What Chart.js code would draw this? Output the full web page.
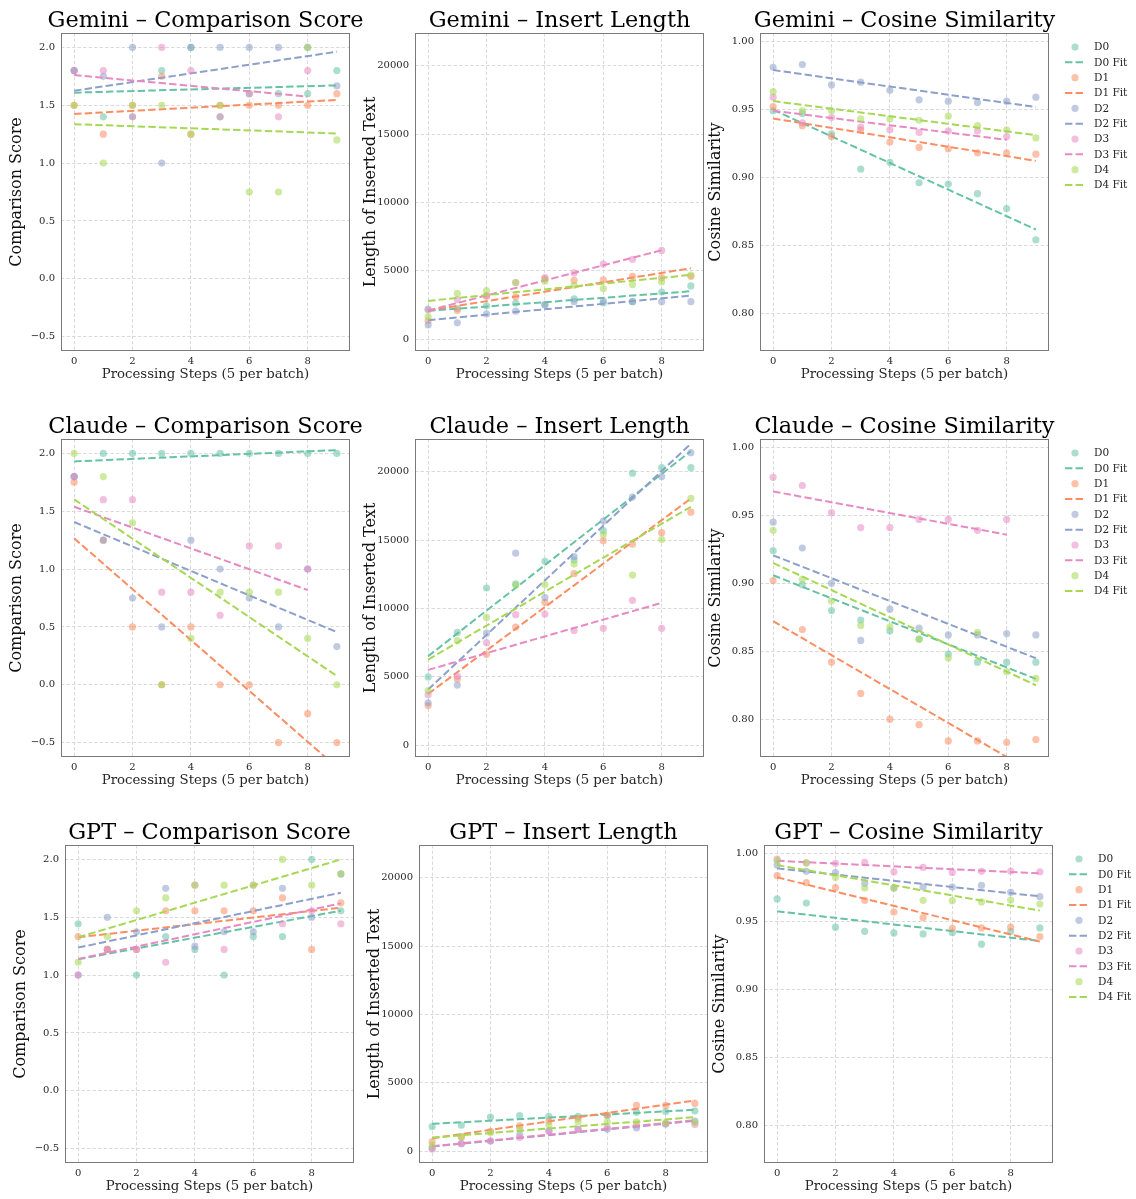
<!DOCTYPE html>
<html>
<head>
<meta charset="utf-8">
<script src="https://cdn.jsdelivr.net/npm/chart.js@4.4.1/dist/chart.umd.min.js"></script>
<style>
html, body { margin: 0; padding: 0; background: #ffffff; width: 1136px; height: 1199px; overflow: hidden; }
canvas { position: absolute; }
</style>
</head>
<body>
<script>
// ---------- labels / ticks ----------
const steps = [0, 1, 2, 3, 4, 5, 6, 7, 8, 9];
const seriesNames = ['D0', 'D1', 'D2', 'D3', 'D4'];
const seriesColors = ['#66c2a5', '#fc8d62', '#8da0cb', '#e78ac3', '#a6d854'];
const modelNames = ['Gemini', 'Claude', 'GPT'];
const metricNames = ['Comparison Score', 'Insert Length', 'Cosine Similarity'];
const yAxisTitles = ['Comparison Score', 'Length of Inserted Text', 'Cosine Similarity'];
const xAxisTitle = 'Processing Steps (5 per batch)';
const xTickValues = [0, 2, 4, 6, 8];
const xTickLabels = ['0', '2', '4', '6', '8'];
const scoreTickValues = [-0.5, 0, 0.5, 1, 1.5, 2];
const scoreTickLabels = ['\u22120.5', '0.0', '0.5', '1.0', '1.5', '2.0'];
const lengthTickValues = [0, 5000, 10000, 15000, 20000];
const lengthTickLabels = ['0', '5000', '10000', '15000', '20000'];
const cosineTickValues = [0.80, 0.85, 0.90, 0.95, 1.00];
const cosineTickLabels = ['0.80', '0.85', '0.90', '0.95', '1.00'];
const xRange = [-0.45, 9.45];
const scoreRange = [-0.625, 2.125];
const lengthRange = [-860, 22400];
const cosineRange = [0.7722, 1.0062];

// ---------- Gemini ----------
const geminiScore = [
  [1.8, 1.4, 1.4, 1.8, 2.0, 1.4, 1.6, 1.6, 1.6, 1.8],
  [1.5, 1.25, 1.5, 1.75, 1.25, 1.5, 1.5, 1.5, 1.5, 1.6],
  [1.8, 1.75, 2.0, 1.0, 2.0, 2.0, 2.0, 2.0, 2.0, 1.667],
  [1.8, 1.8, 1.4, 2.0, 1.8, 1.4, 1.6, 1.4, 1.8],
  [1.5, 1.0, 1.5, 1.5, 1.25, 1.5, 0.75, 0.75, 2.0, 1.2]
];
const geminiScoreFit = [[1.609, 1.672], [1.425, 1.546], [1.626, 1.963], [1.761, 1.575], [1.336, 1.256]];
const geminiLength = [
  [2200, 2250, 2450, 2650, 2550, 2950, 2650, 2750, 3450, 3900],
  [1350, 2100, 3150, 3100, 4400, 4300, 4350, 4600, 4500, 4600],
  [1050, 1200, 1850, 2050, 2500, 2750, 2800, 2750, 2750, 2750],
  [2150, 2900, 3200, 4150, 4500, 4850, 5500, 5850, 6500],
  [1650, 3350, 3550, 4150, 4250, 3950, 3700, 4000, 4200, 4700]
];
const geminiLengthFit = [[2073, 3512], [2098, 5195], [1390, 3195], [2098, 6512], [2805, 4707]];
const geminiCosine = [
  [0.949, 0.947, 0.932, 0.906, 0.911, 0.896, 0.895, 0.888, 0.877, 0.854],
  [0.952, 0.938, 0.930, 0.935, 0.926, 0.922, 0.921, 0.918, 0.918, 0.917],
  [0.981, 0.983, 0.968, 0.970, 0.964, 0.957, 0.956, 0.955, 0.956, 0.959],
  [0.959, 0.940, 0.944, 0.937, 0.935, 0.933, 0.934, 0.934, 0.930],
  [0.963, 0.949, 0.949, 0.943, 0.943, 0.942, 0.945, 0.938, 0.935, 0.929]
];
const geminiCosineFit = [[0.9497, 0.8616], [0.9433, 0.9121], [0.9789, 0.9517], [0.9490, 0.9276], [0.9561, 0.9310]];

// ---------- Claude ----------
const claudeScore = [
  [1.8, 2.0, 2.0, 2.0, 2.0, 2.0, 2.0, 2.0, 2.0, 2.0],
  [1.75, 1.25, 0.5, 0.0, 0.5, 0.0, 0.0, -0.5, -0.25, -0.5],
  [1.8, 1.25, 0.75, 0.5, 1.25, 1.0, 0.75, 0.5, 1.0, 0.33],
  [1.8, 1.6, 1.6, 0.8, 0.8, 0.6, 1.2, 1.2, 1.0],
  [2.0, 1.8, 1.4, 0.0, 0.4, 0.8, 0.8, 0.8, 0.4, 0.0]
];
const claudeScoreFit = [[1.931, 2.029], [1.266, -0.713], [1.407, 0.455], [1.539, 0.819], [1.603, 0.076]];
const claudeLength = [
  [5000, 8250, 11500, 11800, 13450, 13550, 15700, 19900, 20300, 20300],
  [2900, 4850, 6650, 8650, 10450, 12550, 14950, 14700, 15550, 17050],
  [3100, 4400, 8200, 14050, 10800, 13800, 16400, 18150, 19650, 21400],
  [3700, 5050, 7500, 9550, 9600, 8400, 8550, 10600, 8550],
  [4000, 7650, 9350, 11700, 11750, 13250, 15400, 12450, 15050, 18050]
];
const claudeLengthFit = [[6512, 21512], [3756, 18049], [4073, 22049], [5512, 10415], [6268, 17439]];
const claudeCosine = [
  [0.924, 0.899, 0.880, 0.873, 0.865, 0.859, 0.848, 0.842, 0.842, 0.842],
  [0.902, 0.866, 0.842, 0.819, 0.800, 0.796, 0.784, 0.784, 0.783, 0.785],
  [0.945, 0.926, 0.900, 0.858, 0.881, 0.867, 0.862, 0.862, 0.863, 0.862],
  [0.978, 0.972, 0.952, 0.941, 0.941, 0.947, 0.947, 0.939, 0.947],
  [0.939, 0.903, 0.887, 0.869, 0.868, 0.859, 0.845, 0.864, 0.835, 0.830]
];
const claudeCosineFit = [[0.9059, 0.8297], [0.8721, 0.7598], [0.9206, 0.8449], [0.9676, 0.9358], [0.9150, 0.8250]];

// ---------- GPT ----------
const gptScore = [
  [1.444, 1.222, 1.0, 1.333, 1.222, 1.0, 1.333, 1.333, 2.0, 1.556],
  [1.333, 1.222, 1.222, 1.556, 1.556, 1.556, 1.556, 1.667, 1.222, 1.625],
  [1.0, 1.5, 1.375, 1.75, 1.25, 1.375, 1.375, 1.75, 1.5, 1.875],
  [1.0, 1.222, 1.222, 1.111, 1.778, 1.222, 1.778, 1.444, 1.556, 1.444],
  [1.111, 1.333, 1.556, 1.667, 1.778, 1.778, 1.778, 2.0, 1.778, 1.875]
];
const gptScoreFit = [[1.137, 1.557], [1.327, 1.583], [1.238, 1.712], [1.140, 1.620], [1.327, 2.0]];
const gptLength = [
  [1800, 1900, 2500, 2600, 2550, 2550, 2600, 2850, 2900, 2950],
  [700, 1050, 1450, 1850, 2200, 2400, 2650, 3350, 3350, 3500],
  [250, 550, 750, 1200, 1500, 1600, 1600, 1700, 2000, 2200],
  [150, 550, 750, 1000, 1450, 1600, 1750, 1900, 2000, 1950],
  [450, 1050, 1350, 1600, 1900, 2150, 2150, 2150, 2100, 2100]
];
const gptLengthFit = [[2005, 3032], [954, 3716], [342, 2225], [367, 2274], [1002, 2494]];
const gptCosine = [
  [0.9665, 0.9635, 0.9457, 0.9427, 0.9415, 0.9408, 0.9417, 0.9332, 0.9425, 0.9452],
  [0.9836, 0.9785, 0.9748, 0.9655, 0.9569, 0.9528, 0.9449, 0.9452, 0.9457, 0.9388],
  [0.9914, 0.9868, 0.9858, 0.9780, 0.9745, 0.9753, 0.9753, 0.9765, 0.9714, 0.9682],
  [0.9958, 0.9931, 0.9927, 0.9934, 0.9865, 0.9897, 0.9860, 0.9868, 0.9870, 0.9865],
  [0.9949, 0.9931, 0.9824, 0.9745, 0.9745, 0.9655, 0.9652, 0.9643, 0.9657, 0.9628]
];
const gptCosineFit = [[0.9574, 0.9356], [0.9824, 0.9351], [0.9890, 0.9684], [0.9946, 0.9853], [0.9914, 0.9579]];

// ---------- assembly ----------
const panelValues = [
  [geminiScore, geminiLength, geminiCosine],
  [claudeScore, claudeLength, claudeCosine],
  [gptScore, gptLength, gptCosine]
];
const panelFits = [
  [geminiScoreFit, geminiLengthFit, geminiCosineFit],
  [claudeScoreFit, claudeLengthFit, claudeCosineFit],
  [gptScoreFit, gptLengthFit, gptCosineFit]
];
const metricTicks = [
  [scoreTickValues, scoreTickLabels, scoreRange],
  [lengthTickValues, lengthTickLabels, lengthRange],
  [cosineTickValues, cosineTickLabels, cosineRange]
];

const FONT = '"DejaVu Serif", "Liberation Serif", serif';
const PLOT_W = 289, PLOT_H = 318;
const rowTops = [33, 439, 845];
const colLefts = [[61, 415, 760], [61, 415, 760], [65, 419, 764]];
const LW = 60, TH = 33, BH = 38;

function withAlpha(hex, a) {
  const r = parseInt(hex.slice(1, 3), 16), g = parseInt(hex.slice(3, 5), 16), b = parseInt(hex.slice(5, 7), 16);
  return `rgba(${r},${g},${b},${a})`;
}
const POINT_ALPHA = 0.55;
const FIT_DASH = [7.4, 3.2];

const framePlugin = {
  id: 'frame',
  afterDatasetsDraw(chart) {
    const { ctx, chartArea: a } = chart;
    ctx.save();
    ctx.strokeStyle = '#7a7a7a';
    ctx.lineWidth = 1;
    ctx.setLineDash([]);
    ctx.strokeRect(a.left + 0.5, a.top + 0.5, a.right - a.left - 1, a.bottom - a.top - 1);
    ctx.restore();
  }
};

const keyPlugin = {
  id: 'seriesKey',
  afterDraw(chart, args, opts) {
    if (!opts || !opts.show) return;
    const { ctx, chartArea: a } = chart;
    ctx.save();
    ctx.font = '10.5px ' + FONT;
    ctx.textBaseline = 'middle';
    ctx.textAlign = 'left';
    chart.data.datasets.forEach((d, i) => {
      const y = a.top + 14 + i * 15.33;
      if (d.showLine) {
        ctx.strokeStyle = d.borderColor;
        ctx.lineWidth = 2;
        ctx.setLineDash(FIT_DASH);
        ctx.beginPath();
        ctx.moveTo(a.right + 16, y);
        ctx.lineTo(a.right + 37, y);
        ctx.stroke();
      } else {
        ctx.fillStyle = d.backgroundColor;
        ctx.beginPath();
        ctx.arc(a.right + 26, y, 3.6, 0, Math.PI * 2);
        ctx.fill();
      }
      ctx.setLineDash([]);
      ctx.fillStyle = '#262626';
      ctx.fillText(d.label, a.right + 45, y + 0.5);
    });
    ctx.restore();
  }
};

function makePanel(row, col) {
  const plotLeft = colLefts[row][col], plotTop = rowTops[row];
  // a blank right-hand axis as wide as the left one keeps the title centred over the plot
  const RPAD = col === 2 ? Math.max(0, 1136 - (plotLeft + PLOT_W) - LW) : 0;
  const W = LW + PLOT_W + LW + RPAD, H = TH + PLOT_H + BH;
  const canvas = document.createElement('canvas');
  canvas.width = W; canvas.height = H;
  canvas.style.left = (plotLeft - LW) + 'px';
  canvas.style.top = (plotTop - TH) + 'px';
  canvas.style.width = W + 'px';
  canvas.style.height = H + 'px';
  document.body.appendChild(canvas);

  const values = panelValues[row][col];
  const fits = panelFits[row][col];
  const [yTickValues, yTickLabels, yRange] = metricTicks[col];

  const datasets = [];
  seriesNames.forEach((name, s) => {
    const vals = values[s];
    datasets.push({
      label: name,
      data: vals.map((v, i) => ({ x: steps[i], y: v })),
      showLine: false,
      backgroundColor: withAlpha(seriesColors[s], POINT_ALPHA),
      borderColor: 'rgba(0,0,0,0)',
      borderWidth: 0,
      pointRadius: 3.6,
      pointHoverRadius: 3.6,
      order: -(2 * s)
    });
    datasets.push({
      label: name + ' Fit',
      data: [{ x: steps[0], y: fits[s][0] }, { x: steps[vals.length - 1], y: fits[s][1] }],
      showLine: true,
      borderColor: seriesColors[s],
      backgroundColor: seriesColors[s],
      borderWidth: 2,
      borderDash: FIT_DASH,
      pointRadius: 0,
      pointHoverRadius: 0,
      fill: false,
      order: -(2 * s + 1)
    });
  });

  new Chart(canvas, {
    type: 'scatter',
    data: { datasets },
    options: {
      responsive: false,
      animation: false,
      devicePixelRatio: 1,
      events: [],
      layout: { padding: { left: 0, top: 0, right: RPAD, bottom: 0 } },
      plugins: {
        legend: { display: false },
        tooltip: { enabled: false },
        title: {
          display: true,
          text: modelNames[row] + ' \u2013 ' + metricNames[col],
          fullSize: true,
          color: '#000000',
          font: { family: FONT, size: 22.4, weight: 'normal', lineHeight: 1 },
          padding: { top: 9.8, bottom: 0.8 }
        },
        seriesKey: { show: col === 2 }
      },
      scales: {
        x: {
          type: 'linear',
          position: 'bottom',
          min: xRange[0],
          max: xRange[1],
          afterBuildTicks: (s) => { s.ticks = xTickValues.map(v => ({ value: v })); },
          afterFit: (s) => { s.height = BH; },
          ticks: {
            callback: (v, i) => xTickLabels[i],
            color: '#262626',
            font: { family: FONT, size: 10 },
            padding: 4,
            maxRotation: 0,
            autoSkip: false
          },
          grid: { color: '#dadada', lineWidth: 1, drawTicks: false },
          border: { display: false, dash: [3.5, 2] },
          title: {
            display: true,
            text: xAxisTitle,
            color: '#262626',
            font: { family: FONT, size: 13.3 },
            padding: { top: 0, bottom: 6 }
          }
        },
        y: {
          type: 'linear',
          position: 'left',
          min: yRange[0],
          max: yRange[1],
          afterBuildTicks: (s) => { s.ticks = yTickValues.map(v => ({ value: v })); },
          afterFit: (s) => { s.width = LW; },
          ticks: {
            callback: (v, i) => yTickLabels[i],
            color: '#262626',
            font: { family: FONT, size: 10 },
            padding: 6,
            autoSkip: false
          },
          grid: { color: '#dadada', lineWidth: 1, drawTicks: false },
          border: { display: false, dash: [3.5, 2] },
          title: {
            display: true,
            text: yAxisTitles[col],
            color: '#111111',
            font: { family: FONT, size: 16 },
            padding: { top: 6, bottom: 0 }
          }
        },
        ySpacer: {
          type: 'linear',
          position: 'right',
          min: 0,
          max: 1,
          afterFit: (s) => { s.width = LW; },
          ticks: { display: false },
          grid: { display: false, drawTicks: false },
          border: { display: false },
          title: { display: false }
        }
      }
    },
    plugins: [framePlugin, keyPlugin]
  });
}

for (let r = 0; r < 3; r++) {
  for (let c = 0; c < 3; c++) {
    makePanel(r, c);
  }
}
</script>
</body>
</html>
